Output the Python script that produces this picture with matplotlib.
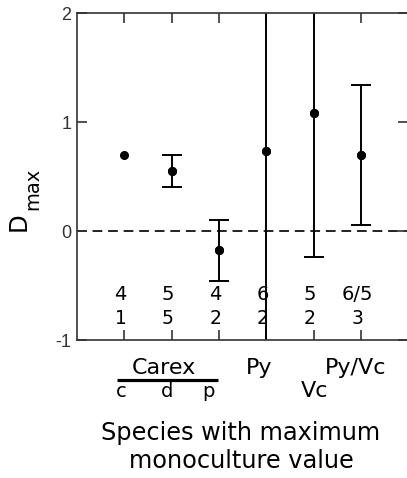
import matplotlib
matplotlib.use("Agg")
import matplotlib.pyplot as plt

# Data
positions = [1, 2, 3, 4, 5, 6]
dmax = [0.70, 0.55, -0.17, 0.73, 1.08, 0.70]
err_low = [0.70, 0.40, -0.46, -1.60, -0.24, 0.055]
err_high = [0.70, 0.70, 0.10, 2.60, 2.60, 1.34]
row_top = ["4", "5", "4", "6", "5", "6/5"]
row_bottom = ["1", "5", "2", "2", "2", "3"]

plt.rcParams.update({
    "font.family": "DejaVu Sans",
    "axes.linewidth": 1.2,
    "axes.edgecolor": "#333333",
})

fig = plt.figure(figsize=(4.07, 4.78), dpi=100)
ax = fig.add_axes([0.189, 0.2887, 0.814, 0.684])

# points with a visible spread get error bars, the rest just a dot
has_err = [hi - lo > 0 for lo, hi in zip(err_low, err_high)]
ex = [x for x, k in zip(positions, has_err) if k]
ey = [d for d, k in zip(dmax, has_err) if k]
lower = [d - lo for d, lo, k in zip(dmax, err_low, has_err) if k]
upper = [hi - d for d, hi, k in zip(dmax, err_high, has_err) if k]
ax.errorbar(ex, ey, yerr=[lower, upper], fmt="o", color="black",
            markersize=5.5, capsize=7.5, elinewidth=1.4, capthick=1.4)
ax.plot(positions, dmax, "o", color="black", markersize=5.5)

ax.axhline(0, color="#222222", linestyle=(0, (5, 3)), linewidth=1.4, zorder=0)

ax.set_xlim(0, 7)
ax.set_ylim(-1, 2)
ax.set_xticks(positions)
ax.set_xticklabels([])
ax.set_yticks([-1, 0, 1, 2])
ax.set_yticklabels(["-1", "0", "1", "2"], family="Liberation Sans", fontsize=13,
                   color="#333333")
ax.tick_params(direction="in", length=7, width=1.2, color="#333333",
               top=True, right=True, bottom=True, left=True, pad=4)

# sample counts inside the plot
for x, t, b in zip(positions, row_top, row_bottom):
    ax.text(x - 0.08, -0.58, t, ha="center", va="center", fontsize=14)
    ax.text(x - 0.08, -0.80, b, ha="center", va="center", fontsize=13.5)

# y label: D with lowered "max"
fig.text(18.5 / 407, 1 - 222 / 478, "D", rotation=90, ha="center", va="center",
         fontsize=17.5)
fig.text(33 / 407, 1 - 189 / 478, "max", rotation=90, ha="center", va="center",
         fontsize=14)

# group labels below the axis
ax.text(1.83, -1.31, "Carex", ha="center", va="baseline", fontsize=16, clip_on=False)
ax.plot([0.846, 2.98], [-1.364, -1.364], color="black", linewidth=2.3, clip_on=False,
        solid_capstyle="butt")
for x, s in zip([0.93, 1.91, 2.77], ["c", "d", "p"]):
    ax.text(x, -1.52, s, ha="center", va="baseline", fontsize=14, clip_on=False)
ax.text(3.85, -1.31, "Py", ha="center", va="baseline", fontsize=16, clip_on=False)
ax.text(5.88, -1.31, "Py/Vc", ha="center", va="baseline", fontsize=16, clip_on=False)
ax.text(5.03, -1.52, "Vc", ha="center", va="baseline", fontsize=16, clip_on=False)

fig.text(241 / 407, 1 - 440 / 478, "Species with maximum", ha="center",
         va="baseline", fontsize=17.3)
fig.text(241 / 407, 1 - 468 / 478, "monoculture value", ha="center",
         va="baseline", fontsize=17.3)

fig.savefig("out.png", dpi=100)
